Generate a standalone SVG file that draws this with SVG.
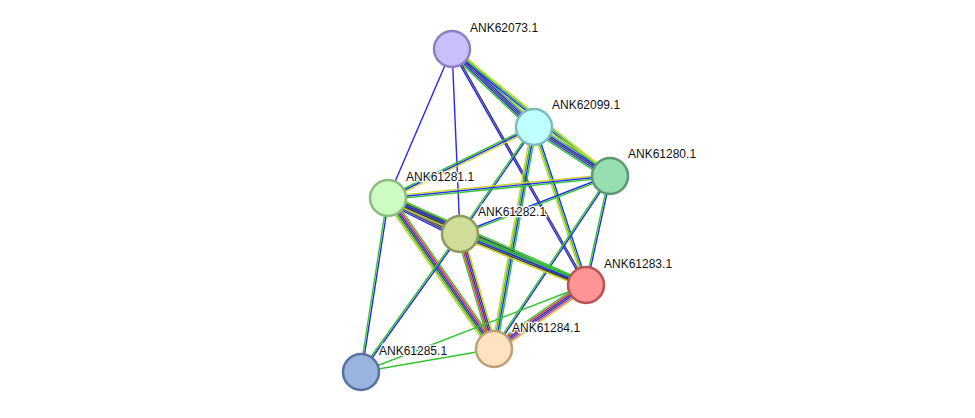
<svg xmlns="http://www.w3.org/2000/svg" xmlns:xlink="http://www.w3.org/1999/xlink" width="975" height="418" viewBox="0 0 975 418">
<style>
use,line{stroke-width:1.4;fill:none}
.y{stroke:#c8d42a}.g{stroke:#33c433}.b{stroke:#2828f0}.k{stroke:#444}.r{stroke:#f22}.m{stroke:#d23cd2}.c{stroke:#22cccc}
circle{stroke-width:2.5}
text{font-family:"Liberation Sans",Arial,sans-serif;font-size:12px;fill:#111;paint-order:stroke;stroke:#fff;stroke-width:2.5px}
</style>
<defs>
<line id="e1" x1="452" y1="49" x2="534" y2="127"/>
<line id="e2" x1="452" y1="49" x2="610" y2="176"/>
<line id="e5" x1="452" y1="49" x2="586" y2="285"/>
<line id="e6" x1="534" y1="127" x2="610" y2="176"/>
<line id="e7" x1="534" y1="127" x2="388" y2="198"/>
<line id="e8" x1="534" y1="127" x2="460" y2="234"/>
<line id="e9" x1="534" y1="127" x2="586" y2="285"/>
<line id="e10" x1="534" y1="127" x2="494" y2="349"/>
<line id="e11" x1="610" y1="176" x2="388" y2="198"/>
<line id="e12" x1="610" y1="176" x2="460" y2="234"/>
<line id="e13" x1="610" y1="176" x2="586" y2="285"/>
<line id="e14" x1="610" y1="176" x2="494" y2="349"/>
<line id="e15" x1="388" y1="198" x2="460" y2="234"/>
<line id="e16" x1="388" y1="198" x2="586" y2="285"/>
<line id="e17" x1="388" y1="198" x2="494" y2="349"/>
<line id="e18" x1="388" y1="198" x2="361" y2="372"/>
<line id="e19" x1="460" y1="234" x2="586" y2="285"/>
<line id="e20" x1="460" y1="234" x2="494" y2="349"/>
<line id="e21" x1="460" y1="234" x2="361" y2="372"/>
<line id="e22" x1="586" y1="285" x2="494" y2="349"/>
</defs>
<rect width="975" height="418" fill="#fff"/>
<g id="edges">
<use href="#e1" class="y" x="2.76" y="-2.9"/><use href="#e1" class="g" x="1.65" y="-1.74"/><use href="#e1" class="b" x="0.55" y="-0.58"/><use href="#e1" class="k" x="-0.55" y="0.58"/><use href="#e1" class="b" x="-1.65" y="1.74"/><use href="#e1" class="g" x="-2.76" y="2.9"/>
<use href="#e2" class="y" x="1" y="-1.25"/><use href="#e2" class="g"/><use href="#e2" class="b" x="-1" y="1.25"/>
<line class="b" x1="452" y1="49" x2="388" y2="198"/>
<line class="b" x1="452" y1="49" x2="460" y2="234"/>
<use href="#e5" class="k" x="0.7" y="-0.4"/><use href="#e5" class="b" x="-0.7" y="0.4"/>
<use href="#e6" class="y" x="2.17" y="-3.36"/><use href="#e6" class="g" x="1.3" y="-2.02"/><use href="#e6" class="b" x="0.43" y="-0.67"/><use href="#e6" class="k" x="-0.43" y="0.67"/><use href="#e6" class="b" x="-1.3" y="2.02"/><use href="#e6" class="g" x="-2.17" y="3.36"/>
<use href="#e7" class="g" x="-0.7" y="-1.44"/><use href="#e7" class="b"/><use href="#e7" class="y" x="0.7" y="1.44"/>
<use href="#e8" class="b" x="0.66" y="0.46"/><use href="#e8" class="g" x="-0.66" y="-0.46"/>
<use href="#e9" class="b" x="1.52" y="-0.5"/><use href="#e9" class="g"/><use href="#e9" class="y" x="-1.52" y="0.5"/>
<use href="#e10" class="g" x="2.36" y="0.42"/><use href="#e10" class="b" x="0.79" y="0.14"/><use href="#e10" class="g" x="-0.79" y="-0.14"/><use href="#e10" class="y" x="-2.36" y="-0.42"/>
<use href="#e11" class="y" x="-0.16" y="-1.59"/><use href="#e11" class="b"/><use href="#e11" class="g" x="0.16" y="1.59"/>
<use href="#e12" class="b" x="-0.29" y="-0.75"/><use href="#e12" class="g" x="0.29" y="0.75"/>
<use href="#e13" class="b" x="0.78" y="0.17"/><use href="#e13" class="g" x="-0.78" y="-0.17"/>
<use href="#e14" class="b" x="0.66" y="0.45"/><use href="#e14" class="g" x="-0.66" y="-0.45"/>
<use href="#e15" class="y" x="2.15" y="-4.29"/><use href="#e15" class="c" x="1.43" y="-2.86"/><use href="#e15" class="g" x="0.72" y="-1.43"/><use href="#e15" class="b"/><use href="#e15" class="k" x="-0.72" y="1.43"/><use href="#e15" class="k" x="-1.43" y="2.86"/><use href="#e15" class="b" x="-2.15" y="4.29"/>
<use href="#e16" class="g" x="1.29" y="-2.93"/><use href="#e16" class="k" x="0.64" y="-1.46"/><use href="#e16" class="b"/><use href="#e16" class="k" x="-0.64" y="1.46"/><use href="#e16" class="y" x="-1.29" y="2.93"/>
<use href="#e17" class="g" x="3.27" y="-2.3"/><use href="#e17" class="r" x="1.96" y="-1.38"/><use href="#e17" class="b" x="0.65" y="-0.46"/><use href="#e17" class="k" x="-0.65" y="0.46"/><use href="#e17" class="g" x="-1.96" y="1.38"/><use href="#e17" class="y" x="-3.27" y="2.3"/>
<use href="#e18" class="b" x="0.79" y="0.12"/><use href="#e18" class="g" x="-0.79" y="-0.12"/>
<use href="#e19" class="g" x="1.2" y="-2.97"/><use href="#e19" class="g" x="0.6" y="-1.48"/><use href="#e19" class="b"/><use href="#e19" class="k" x="-0.6" y="1.48"/><use href="#e19" class="y" x="-1.2" y="2.97"/>
<use href="#e20" class="g" x="-3.07" y="0.91"/><use href="#e20" class="r" x="-1.53" y="0.45"/><use href="#e20" class="b"/><use href="#e20" class="k" x="1.53" y="-0.45"/><use href="#e20" class="y" x="3.07" y="-0.91"/>
<use href="#e21" class="b" x="0.65" y="0.47"/><use href="#e21" class="g" x="-0.65" y="-0.47"/>
<use href="#e22" class="y" x="2.28" y="3.28"/><use href="#e22" class="m" x="1.37" y="1.97"/><use href="#e22" class="k" x="0.46" y="0.66"/><use href="#e22" class="b" x="-0.46" y="-0.66"/><use href="#e22" class="r" x="-1.37" y="-1.97"/><use href="#e22" class="g" x="-2.28" y="-3.28"/>
<line class="g" x1="586" y1="285" x2="361" y2="372"/>
<line class="g" x1="494" y1="349" x2="361" y2="372"/>
</g>
<g id="n62073"><circle cx="452" cy="49" r="18" fill="#c8c0fa" stroke="#8a80c4"/><text x="470" y="32">ANK62073.1</text></g>
<g id="n62099"><circle cx="534" cy="127" r="18" fill="#c0ffff" stroke="#7cbcbc"/><text x="552" y="109">ANK62099.1</text></g>
<g id="n61280"><circle cx="610" cy="176" r="18" fill="#98deb2" stroke="#5a9a70"/><text x="628" y="158">ANK61280.1</text></g>
<g id="n61281"><circle cx="388" cy="198" r="18" fill="#ccfcc0" stroke="#8cbc80"/><text x="406" y="181">ANK61281.1</text></g>
<g id="n61282"><circle cx="460" cy="234" r="18" fill="#d0dc9a" stroke="#8e9a5e"/><text x="478" y="216">ANK61282.1</text></g>
<g id="n61283"><circle cx="586" cy="285" r="18" fill="#ff9494" stroke="#b85454"/><text x="604" y="268">ANK61283.1</text></g>
<g id="n61284"><circle cx="494" cy="349" r="18" fill="#ffe2c0" stroke="#bca078"/><text x="512" y="332">ANK61284.1</text></g>
<g id="n61285"><circle cx="361" cy="372" r="18" fill="#9ab4e0" stroke="#5a729e"/><text x="379" y="355">ANK61285.1</text></g>
</svg>
